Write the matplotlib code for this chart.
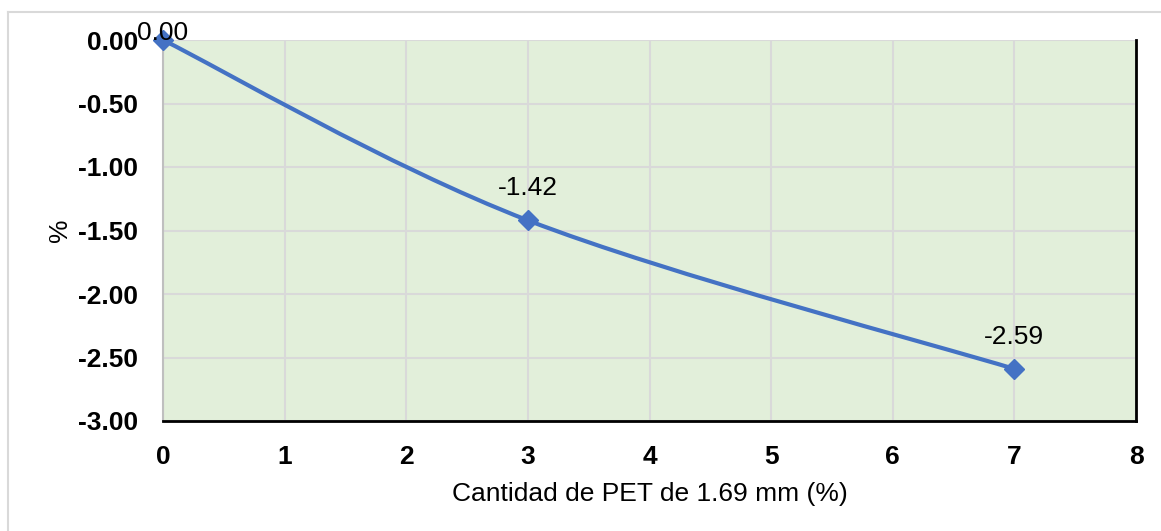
import numpy as np
import matplotlib.pyplot as plt
from matplotlib.path import Path
from matplotlib.patches import PathPatch
from matplotlib.lines import Line2D

plt.rcParams['font.family'] = ['Liberation Sans', 'DejaVu Sans']

# datos: cantidad de PET (%) vs variacion (%)
pet = [0, 3, 7]
variacion = [0.00, -1.42, -2.59]
etiquetas = ['0.00', '-1.42', '-2.59']
xticks = [0, 1, 2, 3, 4, 5, 6, 7, 8]
yticks = [0.0, -0.5, -1.0, -1.5, -2.0, -2.5, -3.0]

azul = '#4472C4'
fondo = '#E2EFDA'
fs = 19

fig = plt.figure(figsize=(11.61, 5.31), dpi=100)
ax = fig.add_axes([163/1161, 1-421/531, (1136-163)/1161, (421-40)/531])
ax.set_facecolor(fondo)

# borde exterior del grafico
fig.add_artist(Line2D([8/1161, 8/1161], [0, 1-12/531], color='#D9D9D9', lw=1.5))
fig.add_artist(Line2D([8/1161, 1], [1-12/531, 1-12/531], color='#D9D9D9', lw=1.5))

# linea suavizada (bezier tipo catmull-rom entre los puntos)
pts = np.column_stack([pet, variacion])
verts = [tuple(pts[0])]
codes = [Path.MOVETO]
n = len(pts)
for i in range(n - 1):
    p0 = pts[max(i - 1, 0)]
    p1 = pts[i]
    p2 = pts[i + 1]
    p3 = pts[min(i + 2, n - 1)]
    c1 = p1 + (p2 - p0) / 6
    c2 = p2 - (p3 - p1) / 6
    verts += [tuple(c1), tuple(c2), tuple(p2)]
    codes += [Path.CURVE4] * 3
ax.add_patch(PathPatch(Path(verts, codes), fill=False, edgecolor=azul, lw=3,
                       capstyle='round', zorder=3, clip_on=False))
ax.plot(pet, variacion, linestyle='none', marker='D', markersize=10,
        color=azul, zorder=4, clip_on=False)

# etiquetas de datos (la primera queda pegada al borde superior)
for i, (x, y, t) in enumerate(zip(pet, variacion, etiquetas)):
    dy = 5 if i == 0 else 23
    ax.annotate(t, (x, y), xytext=(0, dy), textcoords='offset points',
                ha='center', va='center', fontsize=fs, color='black', zorder=5,
                annotation_clip=False)

ax.set_xlim(0, 8)
ax.set_ylim(-3, 0)
ax.set_xticks(xticks)
ax.set_yticks(yticks)
ax.set_xticklabels([str(v) for v in xticks], fontsize=fs, fontweight='bold')
ax.set_yticklabels(['%.2f' % v for v in yticks], fontsize=fs, fontweight='bold')
ax.tick_params(length=0)
ax.tick_params(axis='x', pad=17)
ax.tick_params(axis='y', pad=18)
ax.grid(True, color='#D9D9D9', lw=1.5)
ax.set_axisbelow(True)

ax.spines['top'].set_visible(False)
ax.spines['left'].set_color('#BFBFBF')
ax.spines['left'].set_linewidth(1.5)
ax.spines['bottom'].set_color('black')
ax.spines['bottom'].set_linewidth(2)
ax.spines['right'].set_color('black')
ax.spines['right'].set_linewidth(2)

ax.set_xlabel('Cantidad de PET de 1.69 mm (%)', fontsize=fs, labelpad=10)
ax.set_ylabel('%', fontsize=fs, labelpad=4)

fig.savefig('out.png', dpi=100)
